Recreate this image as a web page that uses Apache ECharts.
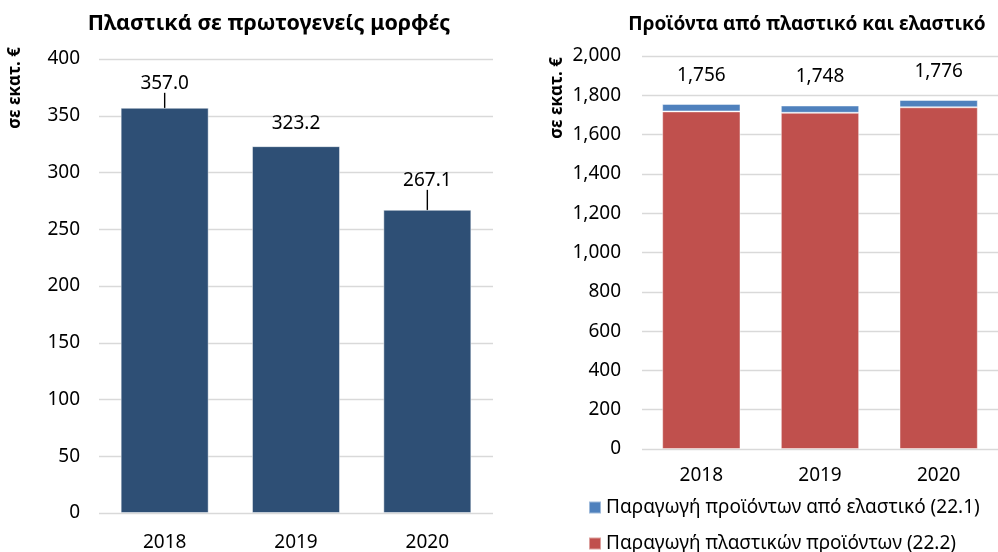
<!DOCTYPE html>
<html><head><meta charset="utf-8">
<script src="https://cdn.jsdelivr.net/npm/echarts@6/dist/echarts.min.js"></script>
<style>html,body{margin:0;padding:0;background:#fff}#c{width:998px;height:552px}</style>
</head><body><div id="c"></div>
<script>
const years = ['2018', '2019', '2020'];
const primaryPlastics = [357.0, 323.2, 267.1];
const rubberProducts = [38, 37, 37];
const plasticProducts = [1718, 1711, 1739];
const leftTitle = 'Πλαστικά σε πρωτογενείς μορφές';
const rightTitle = 'Προϊόντα από πλαστικό και ελαστικό';
const unitLabel = 'σε εκατ. €';
const rubberName = 'Παραγωγή προϊόντων από ελαστικό (22.1)';
const plasticName = 'Παραγωγή πλαστικών προϊόντων (22.2)';

// label styling (not data)
const leftLabelLift = [-15, -13, -20];
const leftLabelLine = [true, false, true];

const FONT = 'Noto Sans';
const FS = 19;
const fmt = v => v.toLocaleString('en-US');
const legendText = { fontFamily: FONT, fontSize: FS, color: '#000' };
const edge = { borderColor: 'rgba(255,255,255,0.45)', borderWidth: 1 };

const chart = echarts.init(document.getElementById('c'));
chart.setOption({
  animation: false,
  textStyle: { fontFamily: FONT },
  title: [
    { text: leftTitle, left: 264, top: 8, textAlign: 'center',
      textStyle: { fontFamily: FONT, fontSize: 21.5, fontWeight: 'bold', color: '#000' } },
    { text: rightTitle, left: 802, top: 10, textAlign: 'center',
      textStyle: { fontFamily: FONT, fontSize: 19, fontWeight: 'bold', color: '#000' } }
  ],
  graphic: [
    { type: 'text', x: 15, y: 88, rotation: Math.PI / 2,
      style: { text: unitLabel, font: 'bold 17px "Noto Sans"', fill: '#000', align: 'center', verticalAlign: 'middle' } },
    { type: 'text', x: 557, y: 98, rotation: Math.PI / 2,
      style: { text: unitLabel, font: 'bold 17px "Noto Sans"', fill: '#000', align: 'center', verticalAlign: 'middle' } }
  ],
  legend: [
    { left: 583, top: 493, itemWidth: 12, itemHeight: 12, icon: 'rect',
      data: [rubberName], textStyle: legendText },
    { left: 583, top: 529, itemWidth: 12, itemHeight: 12, icon: 'rect',
      data: [plasticName], textStyle: legendText }
  ],
  grid: [
    { left: 99, top: 59, width: 394, height: 455 },
    { left: 642, top: 56, width: 366, height: 393 }
  ],
  xAxis: [
    { type: 'category', gridIndex: 0, data: years,
      axisLine: { show: false }, axisTick: { show: false },
      axisLabel: { margin: 20, fontSize: FS, color: '#000', fontFamily: FONT } },
    { type: 'category', gridIndex: 1, data: years,
      axisLine: { show: false }, axisTick: { show: false },
      axisLabel: { margin: 17, fontSize: FS, color: '#000', fontFamily: FONT } }
  ],
  yAxis: [
    { type: 'value', gridIndex: 0, min: 0, max: 400, interval: 50,
      axisLabel: { margin: 19, fontSize: FS, color: '#000', fontFamily: FONT },
      splitLine: { lineStyle: { color: '#d9d9d9', width: 1.3 } } },
    { type: 'value', gridIndex: 1, min: 0, max: 2000, interval: 200,
      axisLabel: { margin: 21, fontSize: FS, color: '#000', fontFamily: FONT, formatter: fmt },
      splitLine: { lineStyle: { color: '#d9d9d9', width: 1.3 } } }
  ],
  series: [
    { type: 'bar', xAxisIndex: 0, yAxisIndex: 0, barWidth: '67%',
      itemStyle: Object.assign({ color: '#2E4F75' }, edge),
      data: primaryPlastics.map((v, i) => ({ value: v, labelLine: { show: leftLabelLine[i] } })),
      label: { show: true, position: 'top', distance: 0, fontSize: FS, color: '#000',
        fontFamily: FONT, formatter: p => p.value.toFixed(1) },
      labelLine: { show: true, lineStyle: { color: '#000', width: 1.4 } },
      labelLayout: p => ({ dy: leftLabelLift[p.dataIndex] })
    },
    { type: 'bar', name: plasticName, xAxisIndex: 1, yAxisIndex: 1, stack: 't', barWidth: '66%',
      itemStyle: Object.assign({ color: '#C0504D' }, edge), data: plasticProducts },
    { type: 'bar', name: rubberName, xAxisIndex: 1, yAxisIndex: 1, stack: 't', barWidth: '66%',
      itemStyle: Object.assign({ color: '#4F81BD' }, edge), data: rubberProducts,
      label: { show: true, position: 'top', distance: 19, fontSize: FS, color: '#000', fontFamily: FONT,
        formatter: p => fmt(plasticProducts[p.dataIndex] + rubberProducts[p.dataIndex]) } }
  ]
});
</script></body></html>
